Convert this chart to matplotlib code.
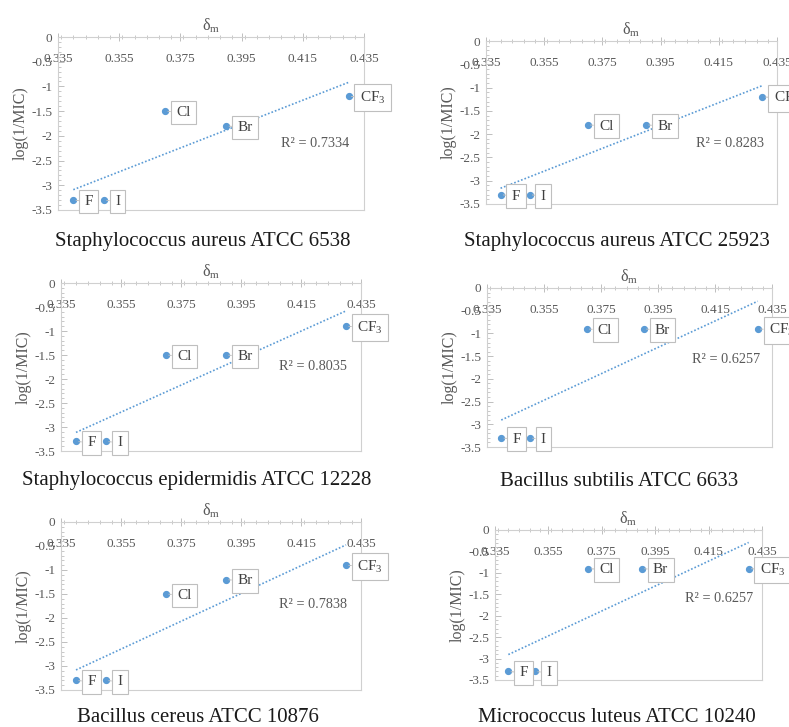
import numpy as np
import matplotlib
matplotlib.use('Agg')
import matplotlib.pyplot as plt
from matplotlib.ticker import FixedLocator, MultipleLocator, FixedFormatter

plt.rcParams['font.family'] = ['Liberation Serif', 'DejaVu Serif']
plt.rcParams['mathtext.fontset'] = 'custom'
plt.rcParams['mathtext.rm'] = 'Liberation Serif'
plt.rcParams['mathtext.it'] = 'Liberation Serif:italic'

# ---------------- data ----------------
substituents = ['F', 'I', 'Cl', 'Br', 'CF$_3$']
sigma_m = [0.34, 0.35, 0.37, 0.39, 0.43]

strains = ['Staphylococcus aureus ATCC 6538',
           'Staphylococcus aureus ATCC 25923',
           'Staphylococcus epidermidis ATCC 12228',
           'Bacillus subtilis ATCC 6633',
           'Bacillus cereus ATCC 10876',
           'Micrococcus luteus ATCC 10240']

log_inv_mic_sa6538 = [-3.3, -3.3, -1.5, -1.8, -1.2]
log_inv_mic_sa25923 = [-3.3, -3.3, -1.8, -1.8, -1.2]
log_inv_mic_se12228 = [-3.3, -3.3, -1.5, -1.5, -0.9]
log_inv_mic_bs6633 = [-3.3, -3.3, -0.9, -0.9, -0.9]
log_inv_mic_bc10876 = [-3.3, -3.3, -1.5, -1.2, -0.9]
log_inv_mic_ml10240 = [-3.3, -3.3, -0.9, -0.9, -0.9]

r2_values = ['0.7334', '0.8283', '0.8035', '0.6257', '0.7838', '0.6257']
r2_y = [-2.15, -2.2, -1.75, -1.58, -1.72, -1.6]

x_ticks = [0.335, 0.355, 0.375, 0.395, 0.415, 0.435]
x_tick_labels = ['0.335', '0.355', '0.375', '0.395', '0.415', '0.435']
y_ticks = [0, -0.5, -1, -1.5, -2, -2.5, -3, -3.5]
y_tick_labels = ['0', '-0.5', '-1', '-1.5', '-2', '-2.5', '-3', '-3.5']

series = [log_inv_mic_sa6538, log_inv_mic_sa25923, log_inv_mic_se12228,
          log_inv_mic_bs6633, log_inv_mic_bc10876, log_inv_mic_ml10240]

# ---------------- layout (pixels) ----------------
W, H = 789, 727
boxes = [(58, 364, 37, 210), (486, 777, 41, 204),
         (61, 361, 283, 451), (487, 772, 288, 447),
         (61, 361, 522, 690), (495, 762, 530, 680)]
title_pos = [(203, 241), (617, 241), (197, 481), (619, 481), (198, 718), (617, 718)]

PT_COLOR = '#5b9bd5'
AX_COLOR = '#d0d0d0'
TXT_COLOR = '#595959'

fig = plt.figure(figsize=(W / 100, H / 100), dpi=100)

for i, ys in enumerate(series):
    l, r, t, b = boxes[i]
    ax = fig.add_axes([l / W, 1 - b / H, (r - l) / W, (b - t) / H])
    ax.set_xlim(0.335, 0.435)
    ax.set_ylim(-3.5, 0)

    for s in ax.spines.values():
        s.set_color(AX_COLOR)
        s.set_linewidth(0.8)

    # x axis on top (crossing at y = 0), labels drawn below the line
    ax.xaxis.set_ticks_position('top')
    ax.xaxis.set_label_position('top')
    ax.xaxis.set_major_locator(FixedLocator(x_ticks))
    ax.xaxis.set_major_formatter(FixedFormatter(x_tick_labels))
    ax.xaxis.set_minor_locator(MultipleLocator(0.004))
    ax.tick_params(axis='x', which='major', direction='inout', length=6,
                   width=0.7, color='#bfbfbf', labelsize=9.5,
                   labelcolor=TXT_COLOR, pad=-23)
    ax.tick_params(axis='x', which='minor', direction='inout', length=3,
                   width=0.6, color='#bfbfbf')

    ax.yaxis.set_major_locator(FixedLocator(y_ticks))
    ax.yaxis.set_major_formatter(FixedFormatter(y_tick_labels))
    ax.yaxis.set_minor_locator(MultipleLocator(0.1))
    ax.tick_params(axis='y', which='major', direction='in', length=4,
                   width=0.7, color='#bfbfbf', labelsize=9.5,
                   labelcolor=TXT_COLOR, pad=4)
    ax.tick_params(axis='y', which='minor', direction='in', length=2.5,
                   width=0.6, color='#bfbfbf')

    ax.set_xlabel('δ$_\\mathrm{m}$', fontsize=11.5, color=TXT_COLOR, labelpad=0)
    ax.set_ylabel('log(1/MIC)', fontsize=11.5, color=TXT_COLOR, labelpad=2)

    # trend line (least squares)
    xs = np.array(sigma_m)
    coef = np.polyfit(xs, np.array(ys), 1)
    xl = np.array([xs.min(), xs.max()])
    ax.plot(xl, np.polyval(coef, xl), linestyle=(0, (1, 1.2)), color=PT_COLOR,
            lw=1.2, zorder=2)

    ax.plot(sigma_m, ys, 'o', color=PT_COLOR, ms=4.2, zorder=3)

    for x, y, lab in zip(sigma_m, ys, substituents):
        ax.annotate(lab, xy=(x, y), xytext=(8, -1), textcoords='offset points',
                    ha='left', va='center', fontsize=11, color='#404040',
                    bbox=dict(boxstyle='square,pad=0.35', fc='white',
                              ec='#bfbfbf', lw=0.8),
                    arrowprops=dict(arrowstyle='-', color='#bfbfbf', lw=0.7,
                                    shrinkA=0, shrinkB=2),
                    zorder=4, annotation_clip=False)

    ax.text(0.419, r2_y[i], 'R² = ' + r2_values[i], ha='center', va='center',
            fontsize=10.3, color=TXT_COLOR)

    tx, ty = title_pos[i]
    fig.text(tx / W, 1 - ty / H, strains[i], ha='center', va='center',
             fontsize=15, color='#1a1a1a')

fig.savefig('out.png', dpi=100)
